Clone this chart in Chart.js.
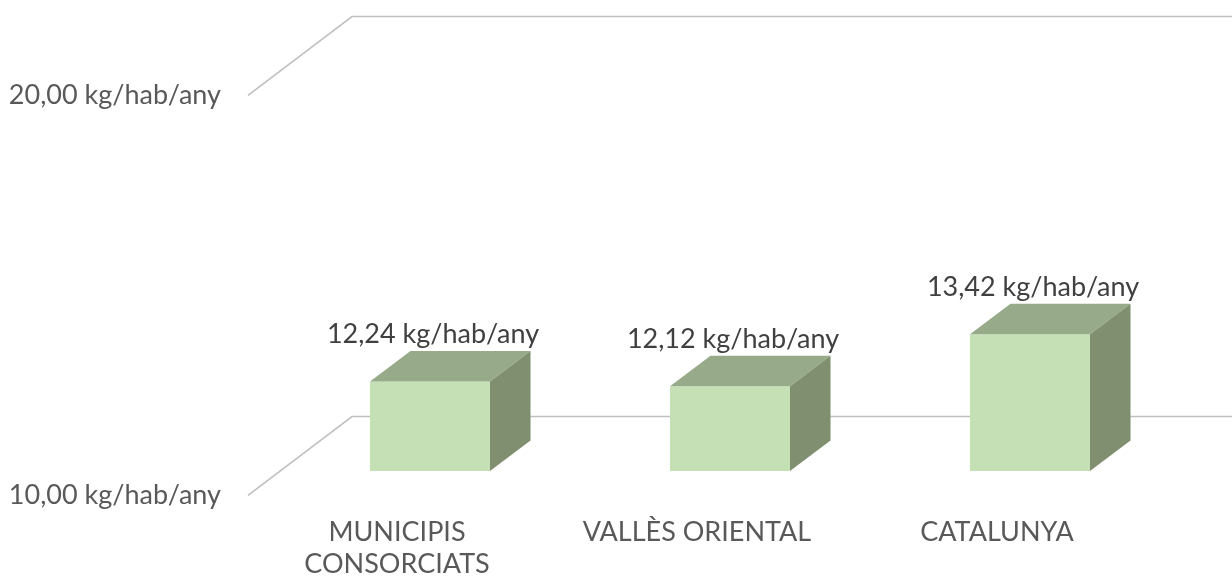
<!DOCTYPE html>
<html>
<head>
<meta charset="utf-8">
<script src="https://cdn.jsdelivr.net/npm/chart.js@4"></script>
<style>
  html, body { margin: 0; padding: 0; background: #fff; }
  #wrap { width: 1232px; height: 577px; }
</style>
</head>
<body>
<div id="wrap"><canvas id="wasteChart"></canvas></div>
<script>
const categories = [["MUNICIPIS", "CONSORCIATS"], "VALLÈS ORIENTAL", "CATALUNYA"];
const values = [12.24, 12.12, 13.42];
const yTicks = [10, 20];
const unit = " kg/hab/any";

const fmt = v => v.toFixed(2).replace(".", ",") + unit;

// fake 3D: depth of the bars and of the floor, in px
const DEPTH = { dx: 40.5, dy: -30.5 };
const FLOOR = { frontX: 248, backX: 352, front: 24.3, back: -54.5 };

const gridPlugin = {
  id: "grid3d",
  beforeDatasetsDraw(chart) {
    const ctx = chart.ctx;
    const y = chart.scales.y;
    ctx.save();
    ctx.strokeStyle = "#c0c0c0";
    ctx.lineWidth = 1.6;
    yTicks.forEach(v => {
      const py = y.getPixelForValue(v);
      ctx.beginPath();
      ctx.moveTo(FLOOR.frontX, py + FLOOR.front);
      ctx.lineTo(FLOOR.backX, py + FLOOR.back);
      ctx.lineTo(chart.width, py + FLOOR.back);
      ctx.stroke();
    });
    ctx.restore();
  }
};

const boxPlugin = {
  id: "box3d",
  afterDatasetsDraw(chart) {
    const ctx = chart.ctx;
    const meta = chart.getDatasetMeta(0);
    const b = chart.scales.y.getPixelForValue(chart.scales.y.min);
    ctx.save();
    meta.data.forEach((bar, i) => {
      const l = bar.x - bar.width / 2, r = bar.x + bar.width / 2;
      const t = bar.y;
      // top face
      ctx.fillStyle = "#97aa89";
      ctx.beginPath();
      ctx.moveTo(l, t);
      ctx.lineTo(l + DEPTH.dx, t + DEPTH.dy);
      ctx.lineTo(r + DEPTH.dx, t + DEPTH.dy);
      ctx.lineTo(r, t);
      ctx.closePath();
      ctx.fill();
      // side face
      ctx.fillStyle = "#7f8f6f";
      ctx.beginPath();
      ctx.moveTo(r, t);
      ctx.lineTo(r + DEPTH.dx, t + DEPTH.dy);
      ctx.lineTo(r + DEPTH.dx, b + DEPTH.dy);
      ctx.lineTo(r, b);
      ctx.closePath();
      ctx.fill();

      // value label
      ctx.fillStyle = "#404040";
      ctx.font = "27px Lato";
      ctx.textAlign = "center";
      ctx.textBaseline = "middle";
      ctx.fillText(fmt(values[i]), bar.x + 3, t - 47);
    });
    ctx.restore();
  }
};

new Chart(document.getElementById("wasteChart"), {
  type: "bar",
  data: {
    labels: categories,
    datasets: [{
      data: values,
      backgroundColor: "#c5e0b4",
      borderWidth: 0,
      barPercentage: 0.4,
      categoryPercentage: 1
    }]
  },
  options: {
    responsive: true,
    maintainAspectRatio: false,
    animation: false,
    layout: { padding: { top: 71, right: 52, left: 0, bottom: 0 } },
    plugins: {
      legend: { display: false },
      tooltip: { enabled: false }
    },
    scales: {
      x: {
        grid: { display: false, drawTicks: false },
        border: { display: false },
        ticks: {
          color: "#595959",
          font: { family: "Lato", size: 27, lineHeight: 1.16 },
          padding: 46,
          labelOffset: -33,
          maxRotation: 0,
          autoSkip: false
        },
        afterFit: s => { s.height = 106; }
      },
      y: {
        min: 10,
        max: 20,
        grid: { display: false, drawTicks: false },
        border: { display: false },
        afterBuildTicks: s => { s.ticks = yTicks.map(v => ({ value: v })); },
        ticks: {
          color: "#595959",
          font: { family: "Lato", size: 27 },
          padding: 59,
          labelOffset: 24,
          callback: v => fmt(v)
        },
        afterFit: s => {
          s.width = 280;
          s.paddingTop = 0;
          s.paddingBottom = 0;
        }
      }
    }
  },
  plugins: [gridPlugin, boxPlugin]
});
</script>
</body>
</html>
